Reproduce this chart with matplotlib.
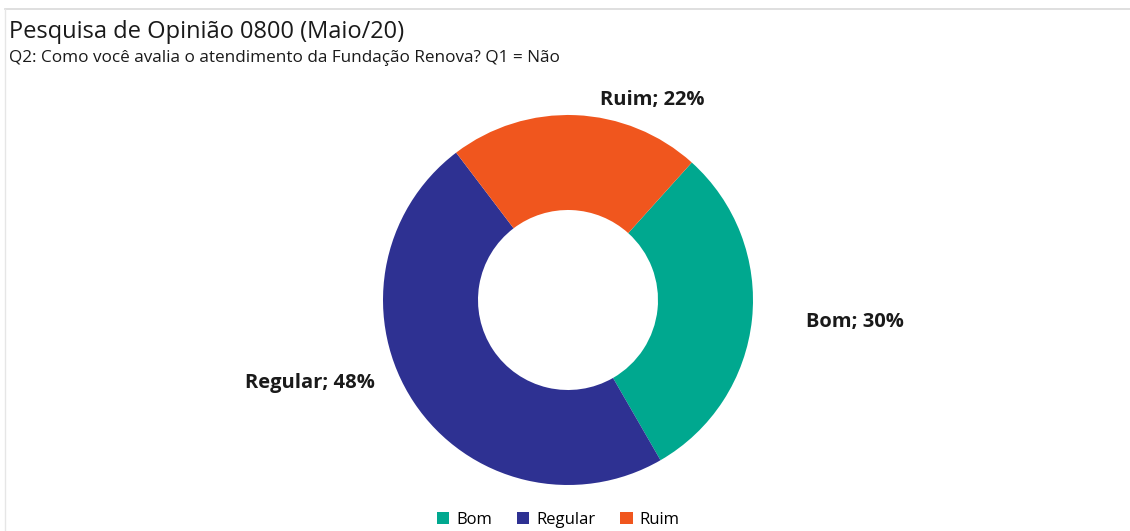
import matplotlib
matplotlib.use("Agg")
import matplotlib.pyplot as plt
from matplotlib.patches import Patch
from matplotlib.lines import Line2D

categories = ["Bom", "Regular", "Ruim"]
values = [30, 48, 22]
colors = ["#00A88F", "#2E3192", "#F0561E"]

plt.rcParams['font.family'] = ['Open Sans', 'DejaVu Sans']

fig = plt.figure(figsize=(11.3, 5.31), dpi=100)
fig.patch.set_facecolor("white")

# chart frame line (light grey)
fig.add_artist(Line2D([5/1130, 1.0], [1-9/531, 1-9/531], color="#D9D9D9", lw=1.2))
fig.add_artist(Line2D([5/1130, 5/1130], [0, 1-9/531], color="#E6E6E6", lw=1.0))

fig.text(9/1130, 1-32/531, "Pesquisa de Opinião 0800 (Maio/20)", fontsize=17, va="center", ha="left", color="#1a1a1a")
fig.text(9/1130, 1-58/531, "Q2: Como você avalia o atendimento da Fundação Renova? Q1 = Não", fontsize=12.3, va="center", ha="left", color="#1a1a1a")

ax = fig.add_axes([(568-185)/1130, (531-485)/531, 370/1130, 370/531])
wedges, _ = ax.pie(values, colors=colors, startangle=48, counterclock=False, radius=1,
                   wedgeprops=dict(width=1-90/185, edgecolor="none"))
ax.set_xlim(-1, 1)
ax.set_ylim(-1, 1)
ax.set_aspect("equal")
ax.axis("off")

label_pos = {"Bom": (1.551, -0.119), "Regular": (-1.395, -0.449), "Ruim": (0.454, 1.081)}
for c, v in zip(categories, values):
    x, y = label_pos[c]
    ax.text(x, y, f"{c}; {v}%", fontsize=14.5, fontweight="bold", ha="center", va="center",
            color="#1a1a1a", clip_on=False)

handles = [Patch(facecolor=col, edgecolor="none") for col in colors]
fig.legend(handles, categories, loc="center", bbox_to_anchor=(558/1130, 1-520/531), ncol=3,
           frameon=False, fontsize=12, handlelength=0.75, handleheight=0.75, handletextpad=0.4,
           columnspacing=1.5)

fig.savefig("out.png", dpi=100, facecolor="white")
